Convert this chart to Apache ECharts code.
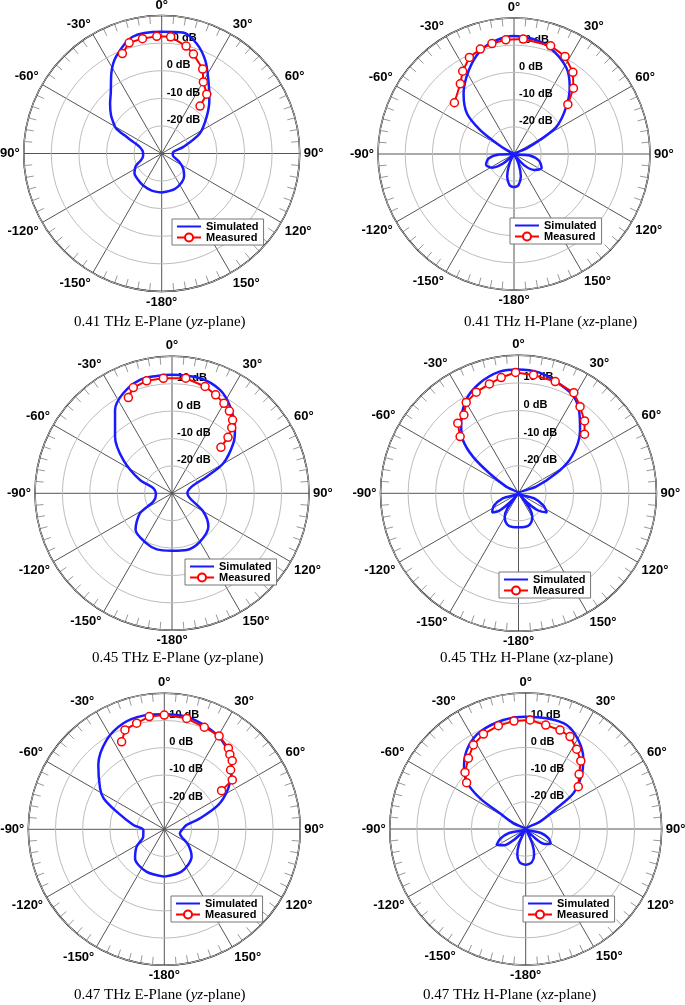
<!DOCTYPE html>
<html lang="en">
<head>
<meta charset="UTF-8">
<script src="https://cdn.jsdelivr.net/npm/echarts@6/dist/echarts.min.js"></script>
<style>
    html, body { margin: 0; padding: 0; background: #fff; }
    #main { width: 685px; height: 1005px; }
</style>
</head>
<body>
<div id="main"></div>
<script>
// every pair is [angle in degrees (0 = boresight, clockwise +), gain in dB]

// 0.41 THz
var simE041 = [[-180,-15.9],[-165,-16.1],[-150,-16.6],[-138,-17.2],[-126,-17.8],[-116,-19.5],[-108,-22.1],[-98,-23.2],[-86,-23.2],
    [-74,-21.8],[-68,-19],[-64,-15],[-61,-11],[-58,-9.5],[-53,-7],[-46,-4],[-40,-1.3],[-32,4.4],[-25,8.9],[-14,13.6],[0,14.1],
    [10,14.5],[17.6,11.8],[25,7.3],[32.5,1.5],[41.8,-4.1],[50.8,-9],[62,-14.3],[73,-21.8],[82,-25.7],[95,-26],[105,-25.5],
    [115,-23],[125,-20.5],[135,-18.5],[145,-17.3],[160,-16.3],[180,-15.9]];
var measE041 = [[-21.5,8.9],[-16.4,11.8],[-9.5,12.2],[-2.4,12.5],[4.4,12.4],[12.8,9.9],[17.7,7.8],[25.9,4.0],[30.2,0.0],[37.2,-3.0],[39,-7.9]];

var simH041 = [[-180,-17.8],[-172,-18.4],[-163,-21.4],[-155,-26],[-149,-30],[-138,-30],[-131,-24.5],[-122,-20.5],[-111,-19],
    [-100,-20.5],[-92,-24.5],[-85,-30],[-68,-30],[-62,-27],[-58.4,-22.6],[-54.8,-14.8],[-49.3,-7.2],[-39.9,-1.1],[-28.5,4.9],
    [-18.1,9.9],[-9,12.3],[0,13.4],[9,12.9],[18.5,11.3],[31,7.2],[39.8,2.0],[48,-4.2],[57.4,-11.5],[61.7,-19.2],[66,-24.9],
    [72,-30],[88,-30],[95,-24.5],[105,-20.5],[117,-18.6],[128,-20.5],[138,-24.5],[145,-30],[149,-30],[155,-26],[163,-21.4],
    [172,-18.4],[180,-17.8]];
var measH041 = [[-49.3,-1.1],[-37.4,2.5],[-31.8,5.8],[-24.8,9.1],[-17.8,10.5],[-11.3,11.4],[-4.1,12.1],[4.6,12.4],[18.7,12.0],
    [27.6,10.5],[35.8,7.0],[42.1,2.6],[47.4,-3.1]];

// 0.45 THz
var simE045 = [[-180,-9.0],[-165,-8.8],[-153,-9.5],[-135,-11.2],[-122,-16.2],[-114,-22.5],[-96,-24.1],[-75,-23],[-67.4,-17.3],
    [-55.6,-8.5],[-45.2,-0.7],[-34.4,6.8],[-26,10.6],[-15.8,13.0],[-7.4,13.2],[0,13.3],[13.7,13.2],[24.9,11.6],[33.8,8.1],
    [44.8,2.6],[50.8,-1.1],[59.7,-8.3],[64.3,-16],[71.3,-22.4],[90,-24.4],[105.5,-23.2],[120.3,-16.8],[132.5,-12],
    [149.9,-9.6],[165.5,-8.6],[180,-9.0]];
var measE045 = [[-24.5,8.4],[-20.1,11.1],[-12.7,12.1],[-4.3,12.1],[6.8,12.3],[17.2,10.8],[23.9,9.3],[30,7.9],[34.9,6.6],
    [39.6,4.7],[42.3,2.4],[45,-1.1],[46.8,-5.5]];

var simH045 = [[-180,-17.7],[-170,-17.6],[-160,-18],[-150,-20],[-144,-23],[-140,-30],[-136,-25],[-132,-20.5],[-126,-18.2],
    [-117,-20],[-108,-24],[-100,-30],[-66,-30],[-61.6,-24.9],[-55.4,-17.2],[-51.2,-8.8],[-46.2,-2.1],[-39.3,2.8],[-29.3,8.8],
    [-19.5,12.3],[-8.9,14.6],[0,14.9],[9.9,14.4],[18.6,12.7],[28.9,10.7],[35.9,7.3],[44.2,2.0],[49.9,-1.9],[56.8,-7.9],
    [62,-14.5],[69.3,-23.2],[74,-30],[100,-30],[108,-24],[116,-20],[124,-17.6],[131,-20.5],[136,-25],[140,-30],[144,-23],
    [150,-20],[160,-18],[170,-17.6],[180,-17.7]];
var measH045 = [[-45.8,-0.5],[-40.9,3.6],[-34.9,4.6],[-29.9,8.0],[-22.7,9.7],[-14.9,11.0],[-8.5,12.4],[-1.4,13.8],[7.2,13.2],
    [18.2,12.6],[28.8,11.6],[35.4,8.5],[42.4,5.5],[48.2,2.1]];

// 0.47 THz
var simE047 = [[-180,-12.6],[-157,-13.1],[-135,-14.8],[-122,-18],[-109,-21.8],[-92,-22.3],[-82,-18.5],[-69.7,-11.3],
    [-63,-5],[-57.5,-2.0],[-45.7,3.9],[-32.8,9.1],[-21.1,11.8],[-10.5,12.5],[0,12.3],[11.2,12.2],[22.4,10.8],[32.7,9.0],
    [41.2,6.3],[49.4,2.6],[57.4,-2.1],[65.7,-8.2],[72.9,-16.3],[79,-21.6],[87,-23],[104,-24.1],[123,-19.5],[135,-15.8],
    [157.7,-13.2],[180,-12.6]];
var measE047 = [[-26,5.8],[-21.6,9.3],[-14.6,10.3],[-7.6,11.8],[0,12.0],[11.4,11.6],[21.4,10.3],[30.4,9.8],[38.3,8.0],
    [41.2,6.6],[44.7,5.5],[48.2,2.7],[54,0.9],[56,-4.6]];

var simH047 = [[-180,-16.8],[-170,-17.5],[-162,-20],[-156,-24],[-150,-30],[-138,-30],[-133,-24.5],[-127,-20],[-119,-17.8],
    [-111,-20],[-104,-23.5],[-96,-30],[-70,-30],[-65.3,-25],[-58.6,-18.9],[-56.1,-9.8],[-51.3,-2.2],[-43.9,2.7],[-34.9,6.9],
    [-25.1,9.5],[-11.6,10.9],[0,11.3],[10.7,11.4],[21.5,11.1],[30.6,8.0],[39.2,3.5],[46,-1.4],[53.2,-8.1],[56.3,-16.3],
    [62.9,-24.1],[68,-30],[97,-30],[105,-24],[112,-21],[120,-19.4],[128,-21],[134,-25],[138,-30],[150,-30],[156,-24],
    [162,-20],[170,-17.5],[180,-16.8]];
var measH047 = [[-51.9,-2.4],[-47,0.5],[-39,3.5],[-31.9,6.4],[-24,8.2],[-14.8,9.3],[-6.2,9.9],[2.3,10.1],[10.9,8.9],
    [19.1,8.5],[25.6,7.7],[32.6,4.8],[39,2.2],[44.3,-1.9],[51.2,-5.2]];

var legendNames = ['Simulated', 'Measured'];
var dbMin = -30, dbMax = 20, dbStep = 10;

var panels = [
    {sim: simE041, meas: measE041, freq: '0.41', plane: 'E', sub: 'yz'},
    {sim: simH041, meas: measH041, freq: '0.41', plane: 'H', sub: 'xz'},
    {sim: simE045, meas: measE045, freq: '0.45', plane: 'E', sub: 'yz'},
    {sim: simH045, meas: measH045, freq: '0.45', plane: 'H', sub: 'xz'},
    {sim: simE047, meas: measE047, freq: '0.47', plane: 'E', sub: 'yz'},
    {sim: simH047, meas: measH047, freq: '0.47', plane: 'H', sub: 'xz'}
];

// where each panel sits on the page
var boxes = [
    {cx: 161.7, cy: 153.5, r: 138, legend: [172, 219], title: [74, 314]},
    {cx: 514, cy: 154, r: 136, legend: [510, 218], title: [464, 314]},
    {cx: 172, cy: 493.3, r: 137, legend: [185, 559], title: [92, 650]},
    {cx: 518.5, cy: 493.3, r: 138, legend: [499, 572], title: [440, 650]},
    {cx: 164.3, cy: 829.3, r: 136, legend: [171, 896], title: [74, 987]},
    {cx: 525.7, cy: 829, r: 136, legend: [523, 896], title: [423, 987]}
];

// polar data is [radius, angle]; angle axis runs 0..360 with 0 on top
function toPolar(list) {
    return list.map(function (p) {
        return [p[1], p[0] < 0 ? p[0] + 360 : p[0]];
    });
}

var chart = echarts.init(document.getElementById('main'));
var option = {
    animation: false,
    backgroundColor: '#fff',
    polar: [], angleAxis: [], radiusAxis: [], legend: [], title: [], series: []
};

panels.forEach(function (p, i) {
    var b = boxes[i];
    option.polar.push({center: [b.cx, b.cy], radius: b.r});
    option.angleAxis.push({
        polarIndex: i, type: 'value', min: 0, max: 360, interval: 30,
        startAngle: 90, clockwise: true,
        axisLine: {lineStyle: {color: '#000', width: 1.5}},
        axisTick: {show: false, inside: true},
        minorTick: {show: true, splitNumber: 6, length: 8, lineStyle: {color: '#999', width: 1}},
        minorSplitLine: {show: false},
        splitLine: {lineStyle: {color: '#555', width: 1}},
        axisLabel: {
            margin: 4, color: '#000', fontFamily: 'Liberation Sans', fontWeight: 'bold', fontSize: 13,
            formatter: function (v) {
                if (v === 360) return '';
                return (v >= 180 ? v - 360 : v) + '°';
            }
        }
    });
    option.radiusAxis.push({
        polarIndex: i, type: 'value', min: dbMin, max: dbMax, interval: dbStep,
        axisLine: {show: false}, axisTick: {show: false},
        splitLine: {lineStyle: {color: '#bdbdbd', width: 1}},
        axisLabel: {
            margin: -5, align: 'left', verticalAlign: 'bottom',
            color: '#000', fontFamily: 'Liberation Sans', fontWeight: 'bold', fontSize: 11,
            formatter: function (v) {
                return (v === dbMin || v === dbMax) ? '' : v + ' dB';
            }
        },
        z: 1
    });
    option.legend.push({
        // the simulated entry shows the line only
        data: [{name: legendNames[0], itemStyle: {opacity: 0}}, legendNames[1]],
        orient: 'vertical', left: b.legend[0], top: b.legend[1],
        itemWidth: 24, itemHeight: 10, itemGap: 0, padding: [2, 5, 2, 4],
        backgroundColor: '#fff', borderColor: '#777', borderWidth: 1, borderRadius: 0,
        textStyle: {fontFamily: 'Liberation Sans', fontWeight: 'bold', fontSize: 11, color: '#000', lineHeight: 10},
        selectedMode: false
    });
    option.title.push({
        text: '{n|' + p.freq + ' THz ' + p.plane + '-Plane (}{i|' + p.sub + '}{n|-plane)}',
        left: b.title[0], top: b.title[1], padding: 0,
        textStyle: {
            fontWeight: 'normal',
            rich: {
                n: {fontFamily: 'Liberation Serif', fontSize: 15, fontWeight: 'normal', color: '#000', lineHeight: 16},
                i: {fontFamily: 'Liberation Serif', fontSize: 15, fontWeight: 'normal', fontStyle: 'italic', color: '#000', lineHeight: 16}
            }
        }
    });
    option.series.push({
        type: 'line', name: legendNames[0], coordinateSystem: 'polar', polarIndex: i,
        data: toPolar(p.sim), smooth: 0.3, symbol: 'none',
        lineStyle: {color: '#1a1aff', width: 2.5}, itemStyle: {color: '#1a1aff'}, z: 3
    });
    option.series.push({
        type: 'line', name: legendNames[1], coordinateSystem: 'polar', polarIndex: i,
        data: toPolar(p.meas), symbol: 'circle', symbolSize: 8,
        lineStyle: {color: '#ff0000', width: 2},
        itemStyle: {color: '#fff', borderColor: '#ff0000', borderWidth: 1.5}, z: 4
    });
});

chart.setOption(option);
</script>
</body>
</html>
